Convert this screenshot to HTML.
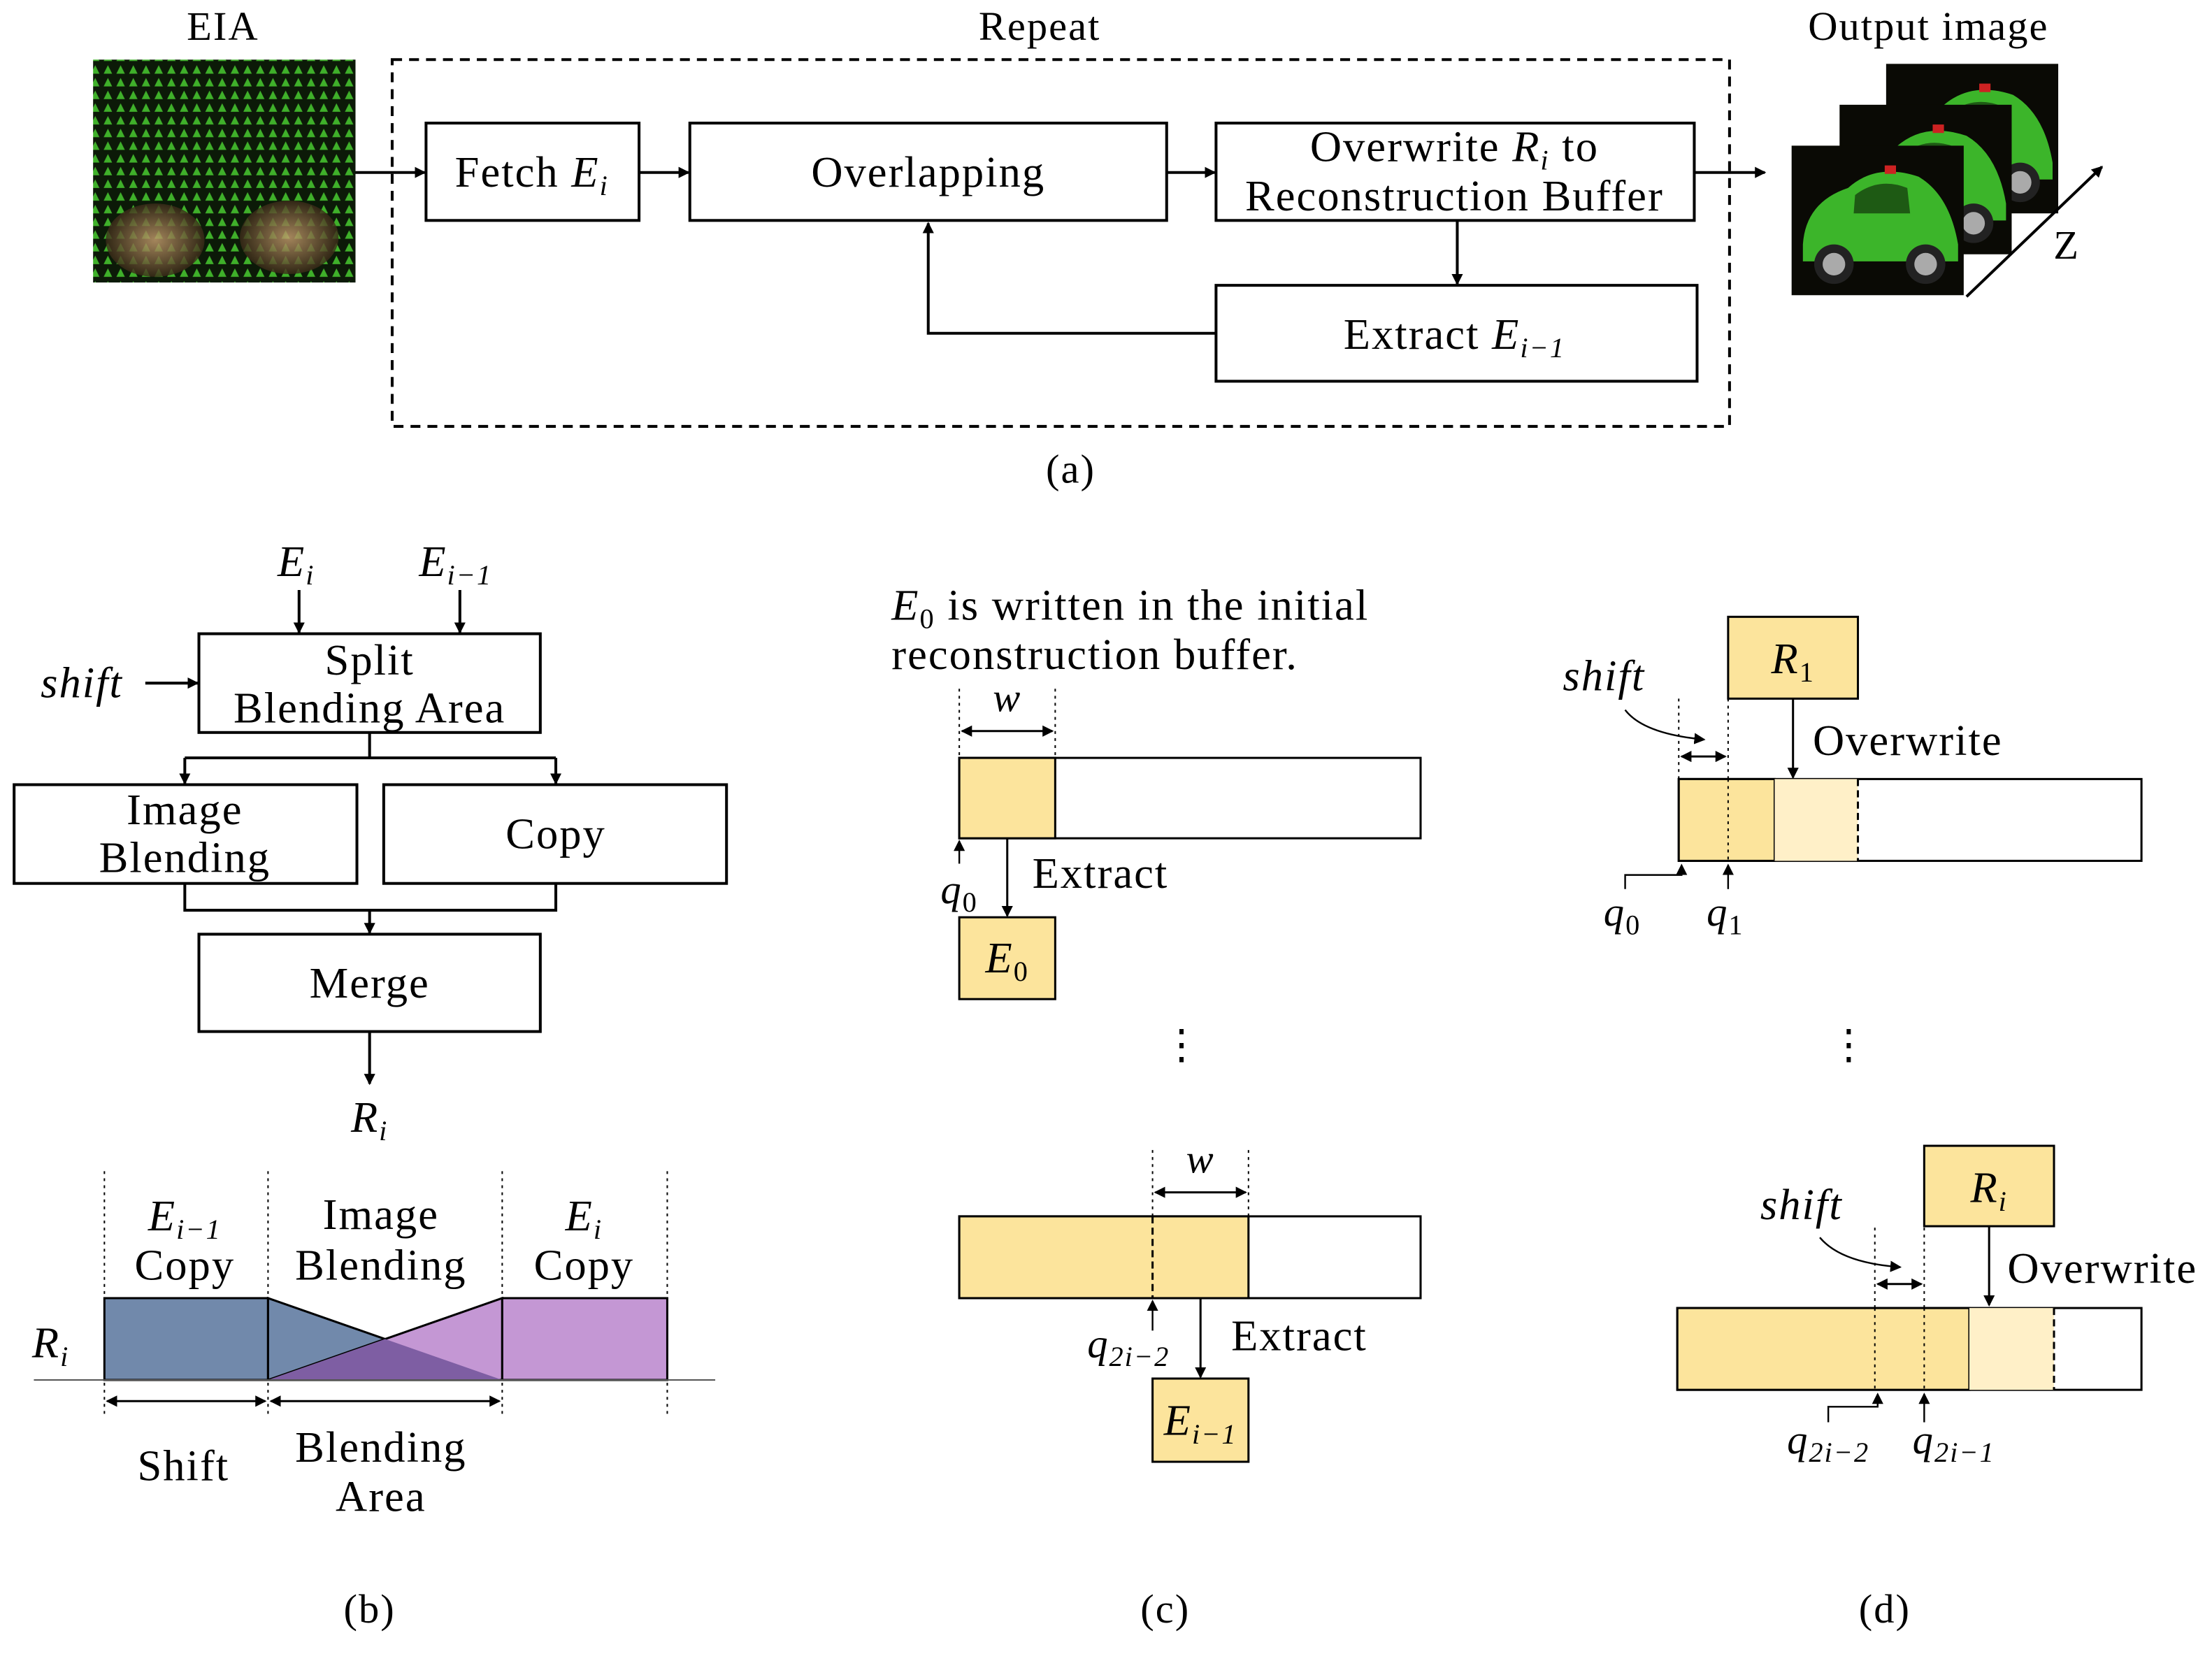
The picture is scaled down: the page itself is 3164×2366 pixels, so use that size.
<!DOCTYPE html>
<html><head><meta charset="utf-8"><style>
html,body{margin:0;padding:0;background:#fff;}
svg{display:block;}
text{font-family:"Liberation Serif",serif;fill:#000;letter-spacing:1px;}
.m{font-style:italic;}
</style></head><body>
<svg width="3164" height="2366" viewBox="0 0 1568 1172" xmlns="http://www.w3.org/2000/svg">
<defs>
<marker id="ar" markerWidth="8" markerHeight="8" refX="7" refY="4" orient="auto" markerUnits="userSpaceOnUse"><path d="M0,0 L8,4 L0,8 z" fill="#000"/></marker>
<marker id="al" markerWidth="8" markerHeight="8" refX="1" refY="4" orient="auto" markerUnits="userSpaceOnUse"><path d="M8,0 L0,4 L8,8 z" fill="#000"/></marker>
<pattern id="eia" width="9" height="9" patternUnits="userSpaceOnUse"><rect width="9" height="9" fill="#0c1a08"/><path d="M4.5,1 L7.5,7 L1.5,7z" fill="#3fb02a"/></pattern>
<radialGradient id="wh" cx="0.5" cy="0.5" r="0.5"><stop offset="0" stop-color="#c9a070"/><stop offset="1" stop-color="#3a2a18"/></radialGradient>
<g id="car"><rect width="122" height="106" fill="#0a0a05"/><path d="M8,70 Q10,40 40,30 Q60,12 90,22 Q112,35 118,70 L118,82 L8,82z" fill="#3cb52a"/><path d="M45,35 Q62,22 82,30 L84,48 L44,48z" fill="#1e5a14"/><circle cx="30" cy="84" r="14" fill="#222"/><circle cx="30" cy="84" r="8" fill="#aaa"/><circle cx="95" cy="84" r="14" fill="#222"/><circle cx="95" cy="84" r="8" fill="#aaa"/><rect x="66" y="14" width="8" height="6" fill="#c22"/></g>
</defs>
<g stroke="#000" stroke-width="2" fill="none">
<rect x="278" y="42" width="948" height="260" stroke-dasharray="7,5"/>
<rect x="302" y="87" width="151" height="69"/>
<rect x="489" y="87" width="338" height="69"/>
<rect x="862" y="87" width="339" height="69"/>
<rect x="862" y="202" width="341" height="68"/>
<line x1="252" y1="122" x2="301" y2="122" marker-end="url(#ar)"/>
<line x1="453" y1="122" x2="488" y2="122" marker-end="url(#ar)"/>
<line x1="827" y1="122" x2="861" y2="122" marker-end="url(#ar)"/>
<line x1="1201" y1="122" x2="1251" y2="122" marker-end="url(#ar)"/>
<line x1="1033" y1="156" x2="1033" y2="201" marker-end="url(#ar)"/>
<polyline points="862,236 658,236 658,158" marker-end="url(#ar)"/>
<line x1="212" y1="418" x2="212" y2="448" marker-end="url(#ar)"/>
<line x1="326" y1="418" x2="326" y2="448" marker-end="url(#ar)"/>
<line x1="103" y1="484" x2="140" y2="484" marker-end="url(#ar)"/>
<rect x="141" y="449" width="242" height="70"/>
<line x1="262" y1="519" x2="262" y2="537"/>
<line x1="131" y1="537" x2="394" y2="537"/>
<line x1="131" y1="537" x2="131" y2="555" marker-end="url(#ar)"/>
<line x1="394" y1="537" x2="394" y2="555" marker-end="url(#ar)"/>
<rect x="10" y="556" width="243" height="70"/>
<rect x="272" y="556" width="243" height="70"/>
<polyline points="131,626 131,645 394,645 394,626"/>
<line x1="262" y1="645" x2="262" y2="661" marker-end="url(#ar)"/>
<rect x="141" y="662" width="242" height="69"/>
<line x1="262" y1="731" x2="262" y2="768" marker-end="url(#ar)"/>
</g>
<rect x="66" y="42" width="186" height="158" fill="url(#eia)"/>
<ellipse cx="110" cy="170" rx="35" ry="26" fill="url(#wh)" opacity="0.8"/>
<ellipse cx="205" cy="168" rx="35" ry="26" fill="url(#wh)" opacity="0.8"/>
<text x="158" y="28" font-size="29" text-anchor="middle">EIA</text>
<text x="737" y="28" font-size="29" text-anchor="middle">Repeat</text>
<text x="1367" y="28" font-size="29" text-anchor="middle">Output image</text>
<text x="377" y="132" font-size="31" text-anchor="middle">Fetch <tspan class="m">E</tspan><tspan class="m" font-size="20" dy="6">i</tspan></text>
<text x="658" y="132" font-size="31" text-anchor="middle">Overlapping</text>
<text x="1031" y="114" font-size="31" text-anchor="middle">Overwrite <tspan class="m">R</tspan><tspan class="m" font-size="20" dy="6">i</tspan><tspan dy="-6"> to</tspan></text>
<text x="1031" y="149" font-size="31" text-anchor="middle">Reconstruction Buffer</text>
<text x="1031" y="247" font-size="31" text-anchor="middle">Extract <tspan class="m">E</tspan><tspan class="m" font-size="20" dy="6">i−1</tspan></text>
<use href="#car" x="1337" y="45"/>
<use href="#car" x="1304" y="74"/>
<use href="#car" x="1270" y="103"/>
<line x1="1394" y1="210" x2="1490" y2="118" stroke="#000" stroke-width="2" marker-end="url(#ar)"/>
<text x="1465" y="183" font-size="29" text-anchor="middle">Z</text>
<text x="759" y="342" font-size="29" text-anchor="middle">(a)</text>
<text x="210" y="408" font-size="31" text-anchor="middle"><tspan class="m">E</tspan><tspan class="m" font-size="20" dy="6">i</tspan></text>
<text x="323" y="408" font-size="31" text-anchor="middle"><tspan class="m">E</tspan><tspan class="m" font-size="20" dy="6">i−1</tspan></text>
<text x="58" y="494" font-size="31" text-anchor="middle" class="m">shift</text>
<text x="262" y="478" font-size="31" text-anchor="middle">Split</text>
<text x="262" y="512" font-size="31" text-anchor="middle">Blending Area</text>
<text x="131" y="584" font-size="31" text-anchor="middle">Image</text>
<text x="131" y="618" font-size="31" text-anchor="middle">Blending</text>
<text x="394" y="601" font-size="31" text-anchor="middle">Copy</text>
<text x="262" y="707" font-size="31" text-anchor="middle">Merge</text>
<text x="262" y="802" font-size="31" text-anchor="middle"><tspan class="m">R</tspan><tspan class="m" font-size="20" dy="6">i</tspan></text>
<g stroke="#000" stroke-width="1" stroke-dasharray="2,3">
<line x1="74" y1="830" x2="74" y2="1002"/><line x1="190" y1="830" x2="190" y2="1002"/><line x1="356" y1="830" x2="356" y2="1002"/><line x1="473" y1="830" x2="473" y2="1002"/>
</g>
<rect x="74" y="920" width="116" height="58" fill="#7189ab" stroke="#000" stroke-width="1.5"/>
<polygon points="190,920 356,978 190,978" fill="#7189ab" stroke="#000" stroke-width="1.5"/>
<polygon points="356,920 190,978 356,978" fill="#c497d4" stroke="#000" stroke-width="1.5"/>
<polygon points="273,949 356,978 190,978" fill="#7e5ea3"/>
<rect x="356" y="920" width="117" height="58" fill="#c497d4" stroke="#000" stroke-width="1.5"/>
<line x1="24" y1="978" x2="507" y2="978" stroke="#555" stroke-width="1"/>
<line x1="76" y1="993" x2="188" y2="993" stroke="#000" stroke-width="1.5" marker-start="url(#al)" marker-end="url(#ar)"/>
<line x1="192" y1="993" x2="354" y2="993" stroke="#000" stroke-width="1.5" marker-start="url(#al)" marker-end="url(#ar)"/>
<text x="131" y="872" font-size="31" text-anchor="middle"><tspan class="m">E</tspan><tspan class="m" font-size="20" dy="6">i−1</tspan></text>
<text x="131" y="907" font-size="31" text-anchor="middle">Copy</text>
<text x="270" y="871" font-size="31" text-anchor="middle">Image</text>
<text x="270" y="907" font-size="31" text-anchor="middle">Blending</text>
<text x="414" y="872" font-size="31" text-anchor="middle"><tspan class="m">E</tspan><tspan class="m" font-size="20" dy="6">i</tspan></text>
<text x="414" y="907" font-size="31" text-anchor="middle">Copy</text>
<text x="36" y="962" font-size="31" text-anchor="middle"><tspan class="m">R</tspan><tspan class="m" font-size="20" dy="6">i</tspan></text>
<text x="130" y="1049" font-size="31" text-anchor="middle">Shift</text>
<text x="270" y="1036" font-size="31" text-anchor="middle">Blending</text>
<text x="270" y="1071" font-size="31" text-anchor="middle">Area</text>
<text x="262" y="1150" font-size="29" text-anchor="middle">(b)</text>
<text x="632" y="439" font-size="31"><tspan class="m">E</tspan><tspan font-size="20" dy="6">0</tspan><tspan dy="-6"> is written in the initial</tspan></text>
<text x="632" y="474" font-size="31">reconstruction buffer.</text>
<g stroke="#000" stroke-width="1" stroke-dasharray="2,3">
<line x1="680" y1="488" x2="680" y2="537"/><line x1="748" y1="488" x2="748" y2="537"/>
<line x1="817" y1="815" x2="817" y2="862"/><line x1="885" y1="815" x2="885" y2="862"/>
<line x1="1190" y1="495" x2="1190" y2="552"/><line x1="1225" y1="495" x2="1225" y2="610"/>
<line x1="1329" y1="870" x2="1329" y2="985"/><line x1="1364" y1="870" x2="1364" y2="985"/>
</g>
<text x="714" y="504" font-size="29" text-anchor="middle" class="m">w</text>
<line x1="682" y1="518" x2="746" y2="518" stroke="#000" stroke-width="1.5" marker-start="url(#al)" marker-end="url(#ar)"/>
<rect x="680" y="537" width="327" height="57" fill="#fff" stroke="#000" stroke-width="1.5"/>
<rect x="680" y="537" width="68" height="57" fill="#fce49c" stroke="#000" stroke-width="1.5"/>
<line x1="680" y1="612" x2="680" y2="596" stroke="#000" stroke-width="1.2" marker-end="url(#ar)"/>
<text x="680" y="640" font-size="29" text-anchor="middle"><tspan class="m">q</tspan><tspan font-size="20" dy="6">0</tspan></text>
<line x1="714" y1="594" x2="714" y2="649" stroke="#000" stroke-width="1.5" marker-end="url(#ar)"/>
<text x="780" y="629" font-size="31" text-anchor="middle">Extract</text>
<rect x="680" y="650" width="68" height="58" fill="#fce49c" stroke="#000" stroke-width="1.5"/>
<text x="714" y="689" font-size="31" text-anchor="middle"><tspan class="m">E</tspan><tspan font-size="20" dy="6">0</tspan></text>
<text x="838" y="750" font-size="29" text-anchor="middle">⋮</text>
<text x="851" y="831" font-size="29" text-anchor="middle" class="m">w</text>
<line x1="819" y1="845" x2="883" y2="845" stroke="#000" stroke-width="1.5" marker-start="url(#al)" marker-end="url(#ar)"/>
<rect x="680" y="862" width="327" height="58" fill="#fff" stroke="#000" stroke-width="1.5"/>
<rect x="680" y="862" width="205" height="58" fill="#fce49c" stroke="#000" stroke-width="1.5"/>
<line x1="817" y1="862" x2="817" y2="920" stroke="#000" stroke-width="1.5" stroke-dasharray="5,3"/>
<line x1="817" y1="943" x2="817" y2="922" stroke="#000" stroke-width="1.2" marker-end="url(#ar)"/>
<text x="800" y="962" font-size="29" text-anchor="middle"><tspan class="m">q</tspan><tspan class="m" font-size="20" dy="6">2i−2</tspan></text>
<line x1="851" y1="920" x2="851" y2="976" stroke="#000" stroke-width="1.5" marker-end="url(#ar)"/>
<text x="921" y="957" font-size="31" text-anchor="middle">Extract</text>
<rect x="817" y="977" width="68" height="59" fill="#fce49c" stroke="#000" stroke-width="1.5"/>
<text x="851" y="1017" font-size="31" text-anchor="middle"><tspan class="m">E</tspan><tspan class="m" font-size="20" dy="6">i−1</tspan></text>
<text x="826" y="1150" font-size="29" text-anchor="middle">(c)</text>
<rect x="1225" y="437" width="92" height="58" fill="#fce49c" stroke="#000" stroke-width="1.5"/>
<text x="1271" y="477" font-size="31" text-anchor="middle"><tspan class="m">R</tspan><tspan font-size="20" dy="6">1</tspan></text>
<line x1="1271" y1="495" x2="1271" y2="551" stroke="#000" stroke-width="1.5" marker-end="url(#ar)"/>
<text x="1285" y="535" font-size="31">Overwrite</text>
<text x="1137" y="489" font-size="31" text-anchor="middle" class="m">shift</text>
<path d="M1152,503 Q1165,520 1208,524" stroke="#000" stroke-width="1.2" fill="none" marker-end="url(#ar)"/>
<line x1="1192" y1="536" x2="1223" y2="536" stroke="#000" stroke-width="1.5" marker-start="url(#al)" marker-end="url(#ar)"/>
<rect x="1190" y="552" width="328" height="58" fill="#fff" stroke="#000" stroke-width="1.5"/>
<rect x="1190" y="552" width="68" height="58" fill="#fce49c" stroke="#000" stroke-width="1.5"/>
<rect x="1258" y="552" width="59" height="58" fill="#fff0c8"/>
<line x1="1317" y1="552" x2="1317" y2="610" stroke="#000" stroke-width="1.5" stroke-dasharray="5,3"/>
<line x1="1225" y1="552" x2="1225" y2="610" stroke="#000" stroke-width="1" stroke-dasharray="2,3"/>
<polyline points="1152,630 1152,620 1192,620 1192,613" stroke="#000" stroke-width="1.2" fill="none" marker-end="url(#ar)"/>
<line x1="1225" y1="630" x2="1225" y2="613" stroke="#000" stroke-width="1.2" marker-end="url(#ar)"/>
<text x="1150" y="656" font-size="29" text-anchor="middle"><tspan class="m">q</tspan><tspan font-size="20" dy="6">0</tspan></text>
<text x="1223" y="656" font-size="29" text-anchor="middle"><tspan class="m">q</tspan><tspan font-size="20" dy="6">1</tspan></text>
<text x="1311" y="750" font-size="29" text-anchor="middle">⋮</text>
<rect x="1364" y="812" width="92" height="57" fill="#fce49c" stroke="#000" stroke-width="1.5"/>
<text x="1410" y="852" font-size="31" text-anchor="middle"><tspan class="m">R</tspan><tspan class="m" font-size="20" dy="6">i</tspan></text>
<line x1="1410" y1="869" x2="1410" y2="925" stroke="#000" stroke-width="1.5" marker-end="url(#ar)"/>
<text x="1423" y="909" font-size="31">Overwrite</text>
<text x="1277" y="864" font-size="31" text-anchor="middle" class="m">shift</text>
<path d="M1290,877 Q1305,895 1347,898" stroke="#000" stroke-width="1.2" fill="none" marker-end="url(#ar)"/>
<line x1="1331" y1="910" x2="1362" y2="910" stroke="#000" stroke-width="1.5" marker-start="url(#al)" marker-end="url(#ar)"/>
<rect x="1189" y="927" width="329" height="58" fill="#fff" stroke="#000" stroke-width="1.5"/>
<rect x="1189" y="927" width="207" height="58" fill="#fce49c" stroke="#000" stroke-width="1.5"/>
<rect x="1396" y="927" width="60" height="58" fill="#fff0c8"/>
<line x1="1456" y1="927" x2="1456" y2="985" stroke="#000" stroke-width="1.5" stroke-dasharray="5,3"/>
<line x1="1329" y1="927" x2="1329" y2="985" stroke="#000" stroke-width="1" stroke-dasharray="2,3"/>
<line x1="1364" y1="927" x2="1364" y2="985" stroke="#000" stroke-width="1" stroke-dasharray="2,3"/>
<polyline points="1296,1008 1296,997 1331,997 1331,988" stroke="#000" stroke-width="1.2" fill="none" marker-end="url(#ar)"/>
<line x1="1364" y1="1008" x2="1364" y2="988" stroke="#000" stroke-width="1.2" marker-end="url(#ar)"/>
<text x="1296" y="1030" font-size="29" text-anchor="middle"><tspan class="m">q</tspan><tspan class="m" font-size="20" dy="6">2i−2</tspan></text>
<text x="1385" y="1030" font-size="29" text-anchor="middle"><tspan class="m">q</tspan><tspan class="m" font-size="20" dy="6">2i−1</tspan></text>
<text x="1336" y="1150" font-size="29" text-anchor="middle">(d)</text>
</svg>
</body></html>
